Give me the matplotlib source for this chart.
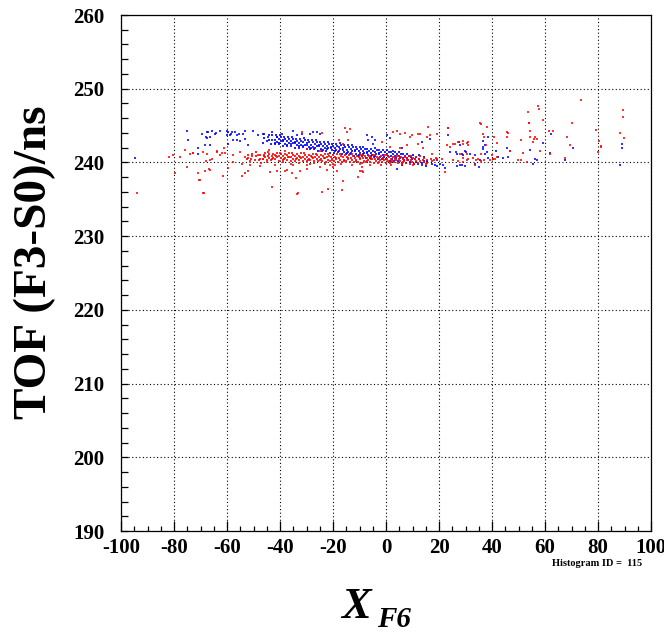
import matplotlib
matplotlib.use("Agg")
import matplotlib.pyplot as plt
from matplotlib.ticker import MultipleLocator, FixedLocator

plt.rcParams["axes.unicode_minus"] = False

# ---------------- data: X_F6 position (mm) vs TOF(F3-S0) (ns) ----------------
# Dense locus, setting 1 (blue)
blue_core_x = [
    -46.5, -46.2, -46.0,
    -44.2, -44.0, -44.8,
    -43.5, -43.2, -43.0,
    -42.0, -41.2, -41.7, -41.0, -41.5, -41.8,
    -40.5, -39.7, -40.2, -39.5, -40.0, -40.3,
    -39.0, -38.2, -38.7, -38.0, -38.5, -38.8,
    -37.5, -36.7, -37.2, -36.5, -37.0, -37.3,
    -36.0, -35.2, -35.7, -35.0, -35.5, -35.8,
    -34.5, -33.7, -34.2, -33.5, -34.0, -34.3,
    -33.0, -32.2, -32.7, -32.0, -32.5, -32.8,
    -31.5, -30.7, -31.2, -30.5, -31.0, -31.3,
    -30.0, -29.2, -29.7, -29.0, -29.5, -29.8,
    -28.5, -27.7, -28.2, -27.5, -28.0, -28.3,
    -27.0, -26.2, -26.7, -26.0, -26.5, -26.8,
    -25.5, -24.7, -25.2, -24.5, -25.0, -25.3,
    -24.0, -23.2, -23.7, -23.0, -23.5, -23.8,
    -22.5, -21.7, -22.2, -21.5, -22.0, -22.3,
    -21.0, -20.2, -20.7, -20.0, -20.5, -20.8,
    -19.5, -18.7, -19.2, -18.5, -19.0, -19.3,
    -18.0, -17.2, -17.7, -17.0, -17.5, -17.8,
    -16.5, -15.7, -16.2, -15.5, -16.0, -16.3,
    -15.0, -14.2, -14.7, -14.0, -14.5, -14.8,
    -13.5, -12.7, -13.2, -12.5, -13.0, -13.3,
    -12.0, -11.2, -11.7, -11.0, -11.5, -11.8,
    -10.5, -9.7, -10.2, -9.5, -10.0, -10.3,
    -9.0, -8.2, -8.7, -8.0, -8.5, -8.8,
    -7.5, -6.7, -7.2, -6.5, -7.0, -7.3,
    -6.0, -5.2, -5.7, -5.0, -5.5, -5.8,
    -4.5, -3.7, -4.2, -3.5, -4.0, -4.3,
    -3.0, -2.2, -2.7, -2.0, -2.5, -2.8,
    -1.5, -0.7, -1.2, -0.5, -1.0, -1.3,
    0.0, 0.8, 0.3, 1.0, 0.5,
    1.5, 2.3, 1.8, 2.5, 2.0,
    3.0, 3.8, 3.3, 4.0, 3.5,
    4.5, 5.3, 4.8, 5.5, 5.0,
    6.0, 6.8, 6.3, 7.0, 6.5,
    7.5, 8.3, 7.8, 8.5, 8.0,
    9.0, 9.8, 9.3, 10.0,
    10.5, 11.3, 10.8, 11.5,
    12.0, 12.3, 12.5,
    14.3, 14.5, 13.7,
    15.0, 15.3,
]
blue_core_y = [
    242.68, 243.32, 243.88,
    243.11, 243.67, 242.90,
    242.45, 243.10, 243.67,
    242.46, 242.80, 243.10, 243.39, 243.66, 242.63,
    242.50, 242.88, 243.18, 243.44, 243.70, 242.67,
    242.23, 242.55, 242.88, 243.18, 243.45, 243.03,
    242.23, 242.57, 242.87, 243.16, 243.43, 242.40,
    242.28, 242.66, 242.96, 243.22, 243.48, 242.45,
    242.00, 242.32, 242.65, 242.95, 243.22, 242.80,
    242.01, 242.35, 242.65, 242.94, 243.21, 242.18,
    242.05, 242.43, 242.73, 242.99, 243.25, 242.22,
    241.78, 242.10, 242.43, 242.73, 243.00, 242.58,
    241.78, 242.12, 242.42, 242.71, 242.98, 241.95,
    241.83, 242.21, 242.51, 242.77, 243.03, 242.00,
    241.55, 241.87, 242.20, 242.50, 242.77, 242.35,
    241.56, 241.90, 242.20, 242.49, 242.76, 241.73,
    241.60, 241.98, 242.28, 242.54, 242.80, 241.77,
    241.33, 241.65, 241.98, 242.28, 242.55, 242.13,
    241.33, 241.67, 241.97, 242.26, 242.53, 241.50,
    241.38, 241.76, 242.06, 242.32, 242.58, 241.55,
    241.10, 241.42, 241.75, 242.05, 242.32, 241.90,
    241.11, 241.45, 241.75, 242.04, 242.31, 241.28,
    241.15, 241.53, 241.83, 242.09, 242.35, 241.32,
    240.88, 241.20, 241.53, 241.83, 242.10, 241.68,
    240.88, 241.22, 241.52, 241.81, 242.08, 241.05,
    240.93, 241.31, 241.61, 241.87, 242.13, 241.10,
    240.65, 240.97, 241.30, 241.60, 241.87, 241.45,
    240.66, 241.00, 241.30, 241.59, 241.86, 240.83,
    240.70, 241.08, 241.38, 241.64, 241.90, 240.87,
    240.43, 240.75, 241.08, 241.38, 241.65, 241.23,
    240.43, 240.77, 241.07, 241.36, 241.63, 240.60,
    240.48, 240.86, 241.16, 241.42, 241.68,
    240.20, 240.52, 240.85, 241.15, 241.42,
    240.21, 240.55, 240.85, 241.14, 241.41,
    240.25, 240.63, 240.93, 241.19, 241.45,
    239.98, 240.30, 240.63, 240.93, 241.20,
    239.98, 240.32, 240.62, 240.91, 241.18,
    240.03, 240.41, 240.71, 240.97,
    239.75, 240.07, 240.40, 240.70,
    239.76, 240.40, 240.96,
    240.18, 240.74, 239.97,
    239.53, 240.18,
]

# Dense locus, setting 2 (red)
red_core_x = [
    -52.5, -52.2, -52.0,
    -51.0, -50.7, -50.5,
    -49.5, -49.2, -49.0,
    -48.0, -47.7, -47.5,
    -46.5, -45.7, -46.2, -45.5, -46.0,
    -45.0, -44.2, -44.7, -44.0, -44.5,
    -43.5, -42.7, -43.2, -42.5, -43.0,
    -42.0, -41.2, -41.7, -41.0, -41.5,
    -40.5, -39.7, -40.2, -39.5, -40.0,
    -39.0, -38.2, -38.7, -38.0, -38.5,
    -37.5, -36.7, -37.2, -36.5, -37.0,
    -36.0, -35.2, -35.7, -35.0, -35.5,
    -34.5, -33.7, -34.2, -33.5, -34.0,
    -33.0, -32.2, -32.7, -32.0, -32.5,
    -31.5, -30.7, -31.2, -30.5, -31.0,
    -30.0, -29.2, -29.7, -29.0, -29.5,
    -28.5, -27.7, -28.2, -27.5, -28.0,
    -27.0, -26.2, -26.7, -26.0, -26.5,
    -25.5, -24.7, -25.2, -24.5, -25.0,
    -24.0, -23.2, -23.7, -23.0, -23.5,
    -22.5, -21.7, -22.2, -21.5, -22.0,
    -21.0, -20.2, -20.7, -20.0, -20.5,
    -19.5, -18.7, -19.2, -18.5, -19.0,
    -18.0, -17.2, -17.7, -17.0, -17.5,
    -16.5, -15.7, -16.2, -15.5, -16.0,
    -15.0, -14.2, -14.7, -14.0, -14.5,
    -13.5, -12.7, -13.2, -12.5, -13.0,
    -12.0, -11.2, -11.7, -11.0, -11.5,
    -10.5, -9.7, -10.2, -9.5, -10.0,
    -9.0, -8.2, -8.7, -8.0, -8.5,
    -7.5, -6.7, -7.2, -6.5, -7.0,
    -6.0, -5.2, -5.7, -5.0, -5.5,
    -4.5, -3.7, -4.2, -3.5, -4.0,
    -3.0, -2.2, -2.7, -2.0, -2.5,
    -1.5, -0.7, -1.2, -0.5, -1.0,
    0.0, 0.8, 0.3, 1.0, 0.5,
    1.5, 2.3, 1.8, 2.5, 2.0,
    3.0, 3.8, 3.3, 4.0, 3.5,
    4.5, 5.3, 4.8, 5.5, 5.0,
    6.0, 6.8, 6.3, 7.0, 6.5,
    7.5, 8.3, 7.8, 8.5, 8.0,
    9.0, 9.8, 9.3, 10.0, 9.5,
    10.5, 11.3, 10.8, 11.5,
    12.0, 12.8, 12.3, 13.0,
    14.3, 13.8, 14.5,
    15.0, 15.3, 15.5,
    17.3, 16.8,
    18.3, 19.0,
]
red_core_y = [
    240.42, 241.00, 240.57,
    240.48, 241.08, 240.90,
    240.34, 240.91, 241.41,
    240.38, 240.96, 240.53,
    240.44, 240.76, 241.04, 241.34, 240.86,
    240.30, 240.58, 240.87, 241.13, 241.37,
    240.34, 240.64, 240.92, 241.19, 240.49,
    240.40, 240.72, 241.00, 241.30, 240.82,
    240.26, 240.54, 240.83, 241.09, 241.33,
    240.30, 240.60, 240.88, 241.15, 240.45,
    240.36, 240.68, 240.96, 241.26, 240.78,
    240.22, 240.50, 240.79, 241.05, 241.29,
    240.26, 240.56, 240.84, 241.11, 240.41,
    240.32, 240.64, 240.92, 241.22, 240.74,
    240.18, 240.46, 240.75, 241.01, 241.25,
    240.22, 240.52, 240.80, 241.07, 240.37,
    240.28, 240.60, 240.88, 241.18, 240.70,
    240.14, 240.42, 240.71, 240.97, 241.21,
    240.18, 240.48, 240.76, 241.03, 240.33,
    240.24, 240.56, 240.84, 241.14, 240.66,
    240.10, 240.38, 240.67, 240.93, 241.17,
    240.13, 240.43, 240.71, 240.98, 240.28,
    240.20, 240.52, 240.80, 241.10, 240.62,
    240.06, 240.34, 240.63, 240.89, 241.13,
    240.09, 240.39, 240.67, 240.94, 240.24,
    240.16, 240.48, 240.76, 241.06, 240.58,
    240.02, 240.30, 240.59, 240.85, 241.09,
    240.05, 240.35, 240.63, 240.90, 240.20,
    240.12, 240.44, 240.72, 241.02, 240.54,
    239.98, 240.26, 240.55, 240.81, 241.05,
    240.01, 240.31, 240.59, 240.86, 240.16,
    240.08, 240.40, 240.68, 240.98, 240.50,
    239.94, 240.22, 240.51, 240.77, 241.01,
    239.97, 240.27, 240.55, 240.82, 240.12,
    240.04, 240.36, 240.64, 240.94, 240.46,
    239.90, 240.18, 240.47, 240.73, 240.97,
    239.93, 240.23, 240.51, 240.78, 240.08,
    240.00, 240.32, 240.60, 240.90, 240.42,
    239.86, 240.14, 240.43, 240.69, 240.93,
    239.89, 240.19, 240.47, 240.74, 240.04,
    239.96, 240.28, 240.56, 240.86, 240.38,
    239.81, 240.09, 240.38, 240.64, 240.88,
    239.85, 240.15, 240.43, 240.70,
    239.92, 240.24, 240.52, 240.82,
    240.05, 240.34, 240.60,
    239.81, 240.39, 239.96,
    240.20, 240.48,
    240.30, 240.56,
]

# Isolated events, setting 1 (blue)
blue_halo_x = [
    -94.7, -75.2, -74.7, -69.5, -67.4, -65.8, -64.2, -62.6, -67.7, -66.4,
    -70.8, -59.9, -58.6, -57.0, -55.6, -53.2, -59.7, -57.6, -55.1, -52.0,
    -35.0, -26.2, -28.7, -7.3, -5.4, -4.2, 0.3, 1.5, 2.8, 5.9,
    13.5, 16.6, 19.1, 21.6, 22.3, 26.7, 27.9, 29.8, 24.2, 29.8,
    26.7, 13.5, 15.4, 19.1, 5.9, 4.0,
    30.1, 28.9, 31.7, 33.6, 36.7, 37.4, 28.6, 35.2, 36.5, 36.7,
    38.4, 41.4, 42.4, 45.5, 44.3, 54.3, 55.6, 56.2, 56.9, 59.1,
    62.1, 61.9, 67.5, 70.7, 88.9, 88.9, 88.3,
    -70.8, -68.3, -67.9, -66.4, -67.0, -64.5, -60.1, -59.5, -58.9, -56.3,
    23.5, 27.7, 27.9, 26.4, 28.6, 37.4, 38.0, 38.6, 33.6, 35.5,
    46.2, 17.2, 20.4, 18.5,
    -58.2, -56.3, -53.8, -53.2, -50.1, -48.2, -46.3, -44.4, -43.1, -41.2,
    -39.4, -33.7, -31.8, -27.4, -24.9, -6.7, -4.8,
]
blue_halo_y = [
    240.60, 244.20, 243.00, 243.80, 244.10, 244.30, 244.00, 244.20, 243.30, 242.30,
    241.20, 244.30, 243.90, 244.10, 243.80, 244.20, 242.50, 243.00, 242.90, 242.30,
    244.30, 244.10, 243.90, 243.70, 243.40, 243.00, 243.70, 243.35, 241.60, 241.90,
    242.75, 243.20, 240.30, 239.60, 239.30, 239.45, 239.70, 239.45, 241.40, 241.60,
    241.20, 239.60, 240.05, 239.45, 239.60, 239.10,
    241.40, 240.95, 241.10, 240.95, 241.80, 241.10, 239.60, 239.40, 242.10, 242.85,
    243.40, 241.50, 240.70, 241.90, 240.55, 241.70, 239.80, 240.50, 240.30, 242.70,
    243.80, 241.30, 240.30, 242.00, 242.50, 241.90, 239.70,
    242.00, 242.30, 243.40, 243.50, 244.10, 243.90, 243.70, 244.10, 243.70, 243.00,
    243.70, 242.75, 242.30, 241.40, 241.20, 242.30, 241.40, 240.60, 239.80, 240.35,
    240.70, 239.80, 239.80, 239.60,
    244.10, 243.70, 243.90, 243.20, 244.30, 243.70, 243.90, 243.40, 244.10, 243.40,
    243.80, 243.70, 243.90, 244.10, 243.90, 243.00, 242.50,
]

# Isolated events, setting 2 (red)
red_halo_x = [
    -94.1, -81.8, -80.3, -75.8, -72.9, -75.2, -70.8, -70.4, -68.9, -66.7,
    -67.9, -65.8, -63.9, -62.0, -61.1, -59.5, -57.6, -55.1, -53.2, -51.3,
    -54.5, -52.0, -51.3, -47.5, -43.8, -41.2, -37.5, -43.1, -33.7, -48.2,
    -46.3, -45.0,
    -33.1, -34.0, -24.3, -21.8, -16.7, -16.3, -10.4, -9.2, -22.1, -19.9,
    -31.8, -24.3, -15.5, -13.6, -14.8, -17.6, -16.1, -14.2,
    2.8, 5.3, 7.2, 9.1, 12.2, 16.0, 16.6, 19.1, 23.5, 12.2,
    14.1, 17.2, 22.9, 26.0, 27.3, 29.2, 31.1, 7.8, 5.3, 1.5,
    -1.6, 19.1, 21.0, 25.4, 27.3, 31.1,
    57.5, 57.7, 73.6, 89.6, 89.6, 53.7, 35.8, 38.0, 54.0, 59.1,
    45.9, 54.3, 61.6, 62.9, 70.1, 68.2, 79.1, 88.3, 89.8, 80.5,
    81.1, 69.4, 56.2, 55.8, 56.9, 50.9, 58.1, 51.8, 46.8, 41.8,
    40.9, 36.7, 37.1, 28.9, 30.7, 31.1, 37.7, 67.5, 61.9, 50.8,
    53.1, 49.7,
    27.9, 29.2, 30.7, 33.0, 34.0, 34.8, 35.7, 37.0, 39.2, 40.3,
    41.1, 39.9, 35.7, 30.4, 29.2, 33.6, 80.1, 81.0,
    -70.2, -68.3, -66.4, -61.4, -68.7, -79.6, -77.7, -74.0, -72.7, -68.9,
    -67.7, -66.4, -63.9, -62.6, -60.8,
    23.3, 35.5, 45.5, 45.8, 54.1, 54.3, 55.6, 41.8, 40.5, 46.8,
    22.3, 24.2, 25.4,
    -54.5, -53.2, -57.6, -38.1, -35.0, -32.5, -35.6, -29.9, -28.7, -24.9,
    -21.1,
    4.0, 9.7, 12.8, 15.4, -19.2, -18.6, -9.8, -9.2, -8.6,
    -44.0, -38.0, -30.0, -25.0,
    -47.0, -42.0, -39.0, -36.0, -33.0, -30.0, -27.0, -23.0, -20.0, -17.0,
    -13.0, -10.0, -6.0, -2.0, 2.0, 6.0, 10.0,
]
red_halo_y = [
    235.90, 240.70, 240.95, 241.70, 241.30, 239.40, 238.50, 237.60, 235.80, 239.10,
    240.20, 240.50, 241.40, 241.30, 242.00, 239.30, 240.95, 241.40, 240.70, 240.20,
    238.20, 238.90, 239.60, 239.55, 238.70, 238.90, 239.00, 236.60, 235.75, 240.95,
    240.50, 240.05,
    235.80, 237.90, 236.00, 236.40, 236.30, 237.50, 238.00, 238.90, 239.00, 239.40,
    244.10, 244.00, 244.70, 244.60, 244.10, 243.00, 242.50, 243.10,
    244.10, 243.90, 244.00, 243.40, 243.90, 244.80, 243.70, 243.90, 244.70, 242.50,
    241.90, 241.20, 242.30, 242.50, 242.75, 242.50, 242.75, 242.30, 241.90, 242.10,
    242.75, 240.50, 240.50, 240.30, 240.20, 240.50,
    247.70, 247.20, 248.50, 247.05, 246.20, 246.90, 245.25, 244.80, 245.30, 245.70,
    244.00, 244.30, 244.20, 244.20, 245.40, 243.40, 244.40, 244.00, 243.30, 242.90,
    242.10, 242.40, 243.40, 243.20, 243.20, 243.00, 241.60, 241.30, 241.50, 242.70,
    243.40, 243.80, 243.40, 242.85, 242.60, 242.40, 242.30, 240.60, 241.10, 240.30,
    240.10, 240.30,
    241.10, 240.60, 240.35, 240.60, 240.30, 240.50, 240.20, 240.35, 240.30, 240.45,
    240.40, 240.95, 241.10, 241.20, 240.05, 239.70, 241.40, 242.20,
    237.60, 238.90, 239.00, 238.20, 235.80, 238.50, 240.70, 241.20, 241.30, 241.40,
    241.20, 240.30, 241.60, 240.95, 241.30,
    244.70, 245.30, 244.10, 243.40, 245.30, 243.40, 242.75, 240.70, 240.50, 241.60,
    238.70, 242.10, 242.45,
    239.80, 238.50, 240.05, 238.90, 239.60, 238.90, 238.50, 239.10, 239.80, 239.40,
    239.60,
    244.30, 243.70, 243.90, 243.40, 239.60, 238.90, 238.90, 239.40, 238.70,
    241.70, 241.60, 241.80, 241.50,
    239.90, 239.70, 240.00, 239.80, 239.90, 239.70, 239.95, 239.80, 239.75, 239.85,
    239.70, 239.75, 239.65, 239.70, 239.60, 239.70, 239.60,
]

x_major = [-100, -80, -60, -40, -20, 0, 20, 40, 60, 80, 100]
y_major = [190, 200, 210, 220, 230, 240, 250, 260]

# ---------------- figure ----------------
W, H = 664, 634
fig = plt.figure(figsize=(W / 100, H / 100), dpi=100)
fig.patch.set_facecolor("white")

left, right, top, bottom = 121, 651, 15, 531
ax = fig.add_axes([left / W, 1 - bottom / H, (right - left) / W, (bottom - top) / H])
ax.set_xlim(-100, 100)
ax.set_ylim(190, 260)

serif = ["Liberation Serif", "DejaVu Serif"]

ax.xaxis.set_major_locator(FixedLocator(x_major))
ax.xaxis.set_minor_locator(MultipleLocator(5))
ax.yaxis.set_major_locator(FixedLocator(y_major))
ax.yaxis.set_minor_locator(MultipleLocator(2))
ax.tick_params(axis="both", which="both", direction="in", top=False, right=False,
               width=0.9, color="black")
ax.tick_params(axis="x", which="major", length=7, pad=5)
ax.tick_params(axis="x", which="minor", length=3.6)
ax.tick_params(axis="y", which="major", length=5, pad=12)
ax.tick_params(axis="y", which="minor", length=5)

for lab in ax.get_xticklabels() + ax.get_yticklabels():
    lab.set_fontfamily(serif)
    lab.set_fontweight("bold")
    lab.set_fontsize(15)

for sp in ax.spines.values():
    sp.set_linewidth(0.9)
    sp.set_color("black")

# dotted grid at the major divisions
ax.grid(True, which="major", color="black", linestyle=(0, (1, 2.2)), linewidth=0.8)
ax.set_axisbelow(True)

core = dict(marker="s", s=4.0, linewidths=0)
halo = dict(marker="s", s=3.6, linewidths=0)
ax.scatter(blue_core_x, blue_core_y, color="#0000ff", alpha=0.85, **core)
ax.scatter(blue_halo_x, blue_halo_y, color="#0000ff", alpha=0.8, **halo)
ax.scatter(red_core_x, red_core_y, color="#ff0000", alpha=0.85, **core)
ax.scatter(red_halo_x, red_halo_y, color="#ff0000", alpha=0.8, **halo)

# axis titles
fig.text(35 / W, 1 - 262 / H, "TOF (F3-S0)/ns", rotation=90, ha="center", va="center",
         fontsize=34, fontweight="bold", family=serif)
fig.text(341 / W, 1 - 618 / H, "X", ha="left", va="baseline",
         fontsize=32, fontstyle="italic", fontweight="bold", family=serif)
fig.text(377 / W, 1 - 627 / H, "F6", ha="left", va="baseline",
         fontsize=21, fontstyle="italic", fontweight="bold", family=serif)

fig.text(597 / W, 1 - 564 / H, "Histogram ID =  115", ha="center", va="center",
         fontsize=7.5, fontweight="bold", family=serif)

fig.savefig("out.png", dpi=100, facecolor="white")
